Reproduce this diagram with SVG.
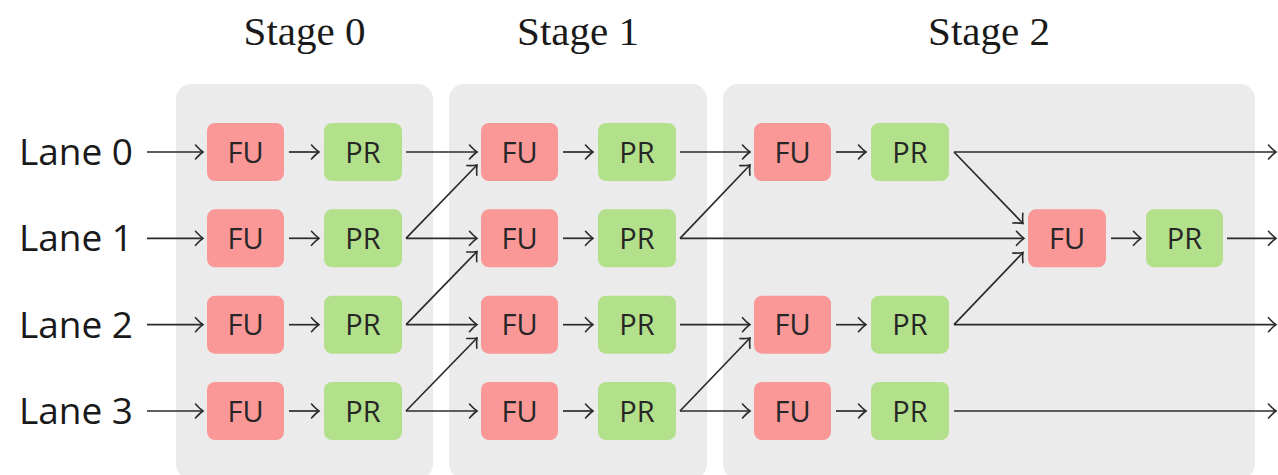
<svg xmlns="http://www.w3.org/2000/svg" width="1278" height="475" viewBox="0 0 1278 475">
  <defs>
    <marker id="head" markerUnits="userSpaceOnUse" markerWidth="20" markerHeight="20" viewBox="-10 -10 20 20" refX="0" refY="0" orient="auto">
      <path d="M -7.5 -7 Q -3 -2 0 0 Q -3 2 -7.5 7" fill="none" stroke="#2b2b2b" stroke-width="1.6" stroke-linecap="round"/>
    </marker>
    <style>
      .stage { fill: #ebebeb; }
      .fu { fill: #fa9898; }
      .pr { fill: #b3e08a; }
      .nl { font-family: "Open Sans", "Noto Sans", sans-serif; font-size: 29px; fill: #262626; text-anchor: middle; }
      .lane { font-family: "Open Sans", "Noto Sans", sans-serif; font-size: 37px; fill: #1a1a1a; text-anchor: end; }
      .stl { font-family: "Liberation Serif", serif; font-size: 41px; fill: #1a1a1a; text-anchor: middle; }
      .c { fill: none; stroke: #2b2b2b; stroke-width: 1.7; marker-end: url(#head); }
    </style>
  </defs>

  <!-- stage backgrounds -->
  <g id="stages">
    <rect class="stage" x="176" y="84" width="257" height="395" rx="15"/>
    <rect class="stage" x="449" y="84" width="258" height="395" rx="15"/>
    <rect class="stage" x="723" y="84" width="532" height="395" rx="15"/>
    <text class="stl" x="304.5" y="45">Stage 0</text>
    <text class="stl" x="578" y="45">Stage 1</text>
    <text class="stl" x="989" y="45">Stage 2</text>
  </g>

  <!-- lane labels -->
  <g id="lanes">
    <text class="lane" x="133" y="165">Lane 0</text>
    <text class="lane" x="133" y="251">Lane 1</text>
    <text class="lane" x="133" y="338">Lane 2</text>
    <text class="lane" x="133" y="424">Lane 3</text>
  </g>

  <!-- connectors -->
  <g id="connectors">
    <!-- inputs -->
    <path class="c" d="M147 152 H203"/>
    <path class="c" d="M147 238.3 H203"/>
    <path class="c" d="M147 324.7 H203"/>
    <path class="c" d="M147 411 H203"/>
    <!-- stage 0 FU -> PR -->
    <path class="c" d="M289 152 H319"/>
    <path class="c" d="M289 238.3 H319"/>
    <path class="c" d="M289 324.7 H319"/>
    <path class="c" d="M289 411 H319"/>
    <!-- stage 0 -> stage 1 -->
    <path class="c" d="M406 152 H477"/>
    <path class="c" d="M406 238.3 H477"/>
    <path class="c" d="M406 324.7 H477"/>
    <path class="c" d="M406 411 H477"/>
    <path class="c" d="M406 238.3 L477 165"/>
    <path class="c" d="M406 324.7 L477 251.5"/>
    <path class="c" d="M406 411 L477 338"/>
    <!-- stage 1 FU -> PR -->
    <path class="c" d="M563 152 H593"/>
    <path class="c" d="M563 238.3 H593"/>
    <path class="c" d="M563 324.7 H593"/>
    <path class="c" d="M563 411 H593"/>
    <!-- stage 1 -> stage 2 -->
    <path class="c" d="M680 152 H750"/>
    <path class="c" d="M680 238.3 L750 165"/>
    <path class="c" d="M680 238.3 H1024"/>
    <path class="c" d="M680 324.7 H750"/>
    <path class="c" d="M680 411 L750 338"/>
    <path class="c" d="M680 411 H750"/>
    <!-- stage 2 FU -> PR -->
    <path class="c" d="M836 152 H866"/>
    <path class="c" d="M836 324.7 H866"/>
    <path class="c" d="M836 411 H866"/>
    <path class="c" d="M1111 238.3 H1141"/>
    <!-- stage 2 outputs and merge -->
    <path class="c" d="M954 152 H1276"/>
    <path class="c" d="M954 152 L1023 223.5"/>
    <path class="c" d="M954 324.7 L1023 252.5"/>
    <path class="c" d="M954 324.7 H1276"/>
    <path class="c" d="M954 411 H1276"/>
    <path class="c" d="M1227 238.3 H1276"/>
  </g>

  <!-- stage 0 nodes -->
  <g id="s0-fu0"><rect class="fu" x="207" y="123" width="77" height="58" rx="8"/><text class="nl" x="245.5" y="162.5">FU</text></g>
  <g id="s0-pr0"><rect class="pr" x="324" y="123" width="78" height="58" rx="8"/><text class="nl" x="363" y="162.5">PR</text></g>
  <g id="s0-fu1"><rect class="fu" x="207" y="209.3" width="77" height="58" rx="8"/><text class="nl" x="245.5" y="248.8">FU</text></g>
  <g id="s0-pr1"><rect class="pr" x="324" y="209.3" width="78" height="58" rx="8"/><text class="nl" x="363" y="248.8">PR</text></g>
  <g id="s0-fu2"><rect class="fu" x="207" y="295.7" width="77" height="58" rx="8"/><text class="nl" x="245.5" y="335.2">FU</text></g>
  <g id="s0-pr2"><rect class="pr" x="324" y="295.7" width="78" height="58" rx="8"/><text class="nl" x="363" y="335.2">PR</text></g>
  <g id="s0-fu3"><rect class="fu" x="207" y="382" width="77" height="58" rx="8"/><text class="nl" x="245.5" y="421.5">FU</text></g>
  <g id="s0-pr3"><rect class="pr" x="324" y="382" width="78" height="58" rx="8"/><text class="nl" x="363" y="421.5">PR</text></g>

  <!-- stage 1 nodes -->
  <g id="s1-fu0"><rect class="fu" x="481" y="123" width="77" height="58" rx="8"/><text class="nl" x="519.5" y="162.5">FU</text></g>
  <g id="s1-pr0"><rect class="pr" x="598" y="123" width="78" height="58" rx="8"/><text class="nl" x="637" y="162.5">PR</text></g>
  <g id="s1-fu1"><rect class="fu" x="481" y="209.3" width="77" height="58" rx="8"/><text class="nl" x="519.5" y="248.8">FU</text></g>
  <g id="s1-pr1"><rect class="pr" x="598" y="209.3" width="78" height="58" rx="8"/><text class="nl" x="637" y="248.8">PR</text></g>
  <g id="s1-fu2"><rect class="fu" x="481" y="295.7" width="77" height="58" rx="8"/><text class="nl" x="519.5" y="335.2">FU</text></g>
  <g id="s1-pr2"><rect class="pr" x="598" y="295.7" width="78" height="58" rx="8"/><text class="nl" x="637" y="335.2">PR</text></g>
  <g id="s1-fu3"><rect class="fu" x="481" y="382" width="77" height="58" rx="8"/><text class="nl" x="519.5" y="421.5">FU</text></g>
  <g id="s1-pr3"><rect class="pr" x="598" y="382" width="78" height="58" rx="8"/><text class="nl" x="637" y="421.5">PR</text></g>

  <!-- stage 2 nodes -->
  <g id="s2-fu0"><rect class="fu" x="754" y="123" width="77" height="58" rx="8"/><text class="nl" x="792.5" y="162.5">FU</text></g>
  <g id="s2-pr0"><rect class="pr" x="871" y="123" width="78" height="58" rx="8"/><text class="nl" x="910" y="162.5">PR</text></g>
  <g id="s2-fu1"><rect class="fu" x="1028" y="209.3" width="78" height="58" rx="8"/><text class="nl" x="1067" y="248.8">FU</text></g>
  <g id="s2-pr1"><rect class="pr" x="1146" y="209.3" width="77" height="58" rx="8"/><text class="nl" x="1184.5" y="248.8">PR</text></g>
  <g id="s2-fu2"><rect class="fu" x="754" y="295.7" width="77" height="58" rx="8"/><text class="nl" x="792.5" y="335.2">FU</text></g>
  <g id="s2-pr2"><rect class="pr" x="871" y="295.7" width="78" height="58" rx="8"/><text class="nl" x="910" y="335.2">PR</text></g>
  <g id="s2-fu3"><rect class="fu" x="754" y="382" width="77" height="58" rx="8"/><text class="nl" x="792.5" y="421.5">FU</text></g>
  <g id="s2-pr3"><rect class="pr" x="871" y="382" width="78" height="58" rx="8"/><text class="nl" x="910" y="421.5">PR</text></g>
</svg>
